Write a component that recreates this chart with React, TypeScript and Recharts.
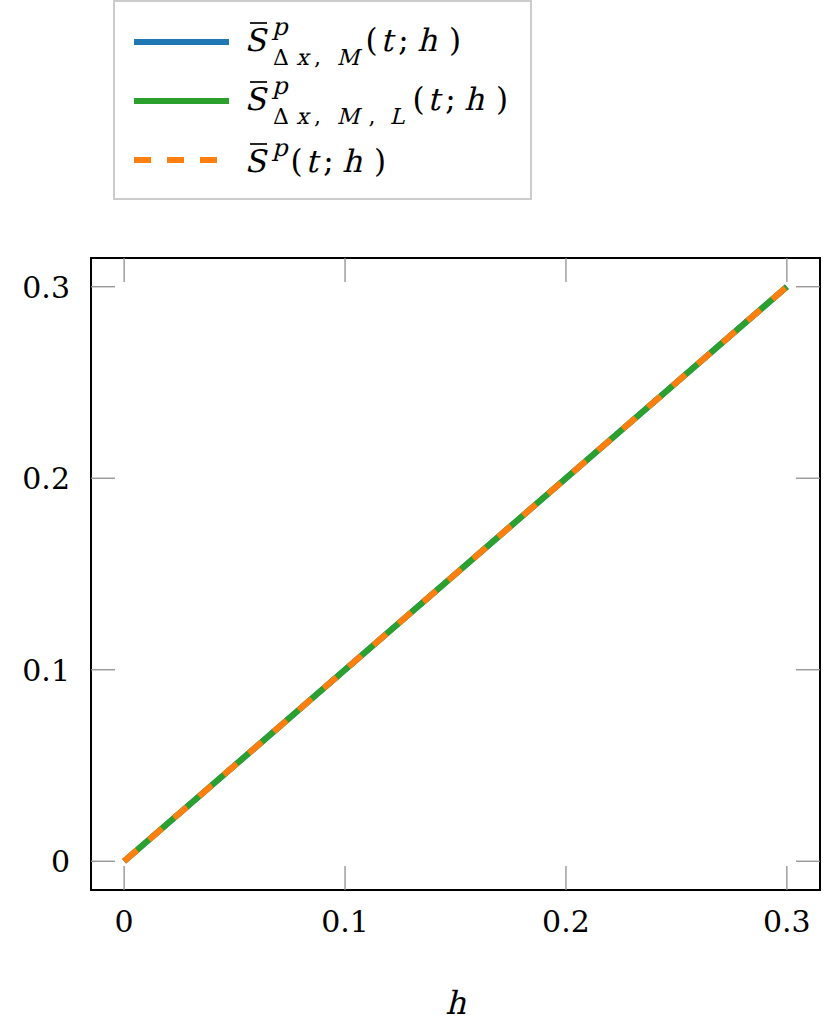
import React from 'react';
import { LineChart, Line, XAxis, YAxis, ReferenceArea } from 'recharts';

const hValues = [0, 0.05, 0.1, 0.15, 0.2, 0.25, 0.3];
const sDxM = [0, 0.05, 0.1, 0.15, 0.2, 0.25, 0.3];
const sDxML = [0, 0.05, 0.1, 0.15, 0.2, 0.25, 0.3];
const sExact = [0, 0.05, 0.1, 0.15, 0.2, 0.25, 0.3];
const xTicks = [0, 0.1, 0.2, 0.3];
const yTicks = [0, 0.1, 0.2, 0.3];
const xLabels = ['0', '0.1', '0.2', '0.3'];
const yLabels = ['0', '0.1', '0.2', '0.3'];
const xAxisTitle = 'h';

const seriesKeys = ['dxm', 'dxml', 'exact'];
const seriesColors = ['#1f77b4', '#2ca02c', '#ff7f0e'];
const seriesDash = [undefined, undefined, '17 16'];
// subscript glyphs per legend entry: [text, italic]
const legendSubs: [string, boolean][][] = [
  [['Δ', false], ['x', true], [',', false], ['M', true]],
  [['Δ', false], ['x', true], [',', false], ['M', true], [',', false], ['L', true]],
  [],
];
const argGlyphs: [string, boolean][] = [['(', false], ['t', true], [';', false], ['h', true], [')', false]];

const data = hValues.map((h, i) => ({ h, dxm: sDxM[i], dxml: sDxML[i], exact: sExact[i] }));

const FONT = '"DejaVu Serif", serif';
const TICK_COLOR = '#8f8f8f';
const TICK_LEN = 24;

const fmt = (v: number, ticks: number[], labels: string[]) => {
  const i = ticks.findIndex((t) => Math.abs(t - v) < 1e-9);
  return i >= 0 ? labels[i] : String(v);
};

// a single glyph, centred at x on baseline y; italic drawn as slanted serif
const Glyph = ({ x, y, size, italic, children }: any) => (
  <text
    transform={`translate(${x},${y})${italic ? ' skewX(-14)' : ''}`}
    x={0}
    y={0}
    textAnchor="middle"
    fontFamily={FONT}
    fontSize={size}
    fill="#000"
  >
    {children}
  </text>
);

const BottomTick = (props: any) => {
  const { x, y, payload } = props;
  return (
    <g>
      <line x1={x} x2={x} y1={y} y2={y - TICK_LEN} stroke={TICK_COLOR} strokeWidth={1.3} />
      <text x={x} y={y + 42} textAnchor="middle" fontFamily={FONT} fontSize={30} fill="#000">
        {fmt(payload.value, xTicks, xLabels)}
      </text>
    </g>
  );
};
const TopTick = (props: any) => {
  const { x, y } = props;
  return <line x1={x} x2={x} y1={y} y2={y + TICK_LEN} stroke={TICK_COLOR} strokeWidth={1.3} />;
};
const LeftTick = (props: any) => {
  const { x, y, payload } = props;
  return (
    <g>
      <line x1={x} x2={x + TICK_LEN} y1={y} y2={y} stroke={TICK_COLOR} strokeWidth={1.3} />
      <text x={x - 21} y={y + 11} textAnchor="end" fontFamily={FONT} fontSize={30} fill="#000">
        {fmt(payload.value, yTicks, yLabels)}
      </text>
    </g>
  );
};
const RightTick = (props: any) => {
  const { x, y } = props;
  return <line x1={x} x2={x - TICK_LEN} y1={y} y2={y} stroke={TICK_COLOR} strokeWidth={1.3} />;
};

const XTitle = (props: any) => {
  const vb = props.viewBox || { x: 91, y: 890, width: 729, height: 145 };
  return (
    <Glyph x={vb.x + vb.width / 2} y={vb.y + vb.height - 21} size={32} italic>
      {xAxisTitle}
    </Glyph>
  );
};

const rowBase = [51, 110, 172];
const lineY = [42, 101, 160];
const parenX = [368, 415, 293];
const subCenters = [281, 302.5, 317.5, 348, 372, 397];
const argCenters = [3.5, 18.5, 35.5, 59, 87];

const Legend = () => (
  <svg width={833} height={210} style={{ position: 'absolute', left: 0, top: 0 }}>
    <rect x={114} y={1} width={417} height={198} fill="#fff" stroke="#cccccc" strokeWidth={2} />
    {seriesKeys.map((k, i) => {
      const b = rowBase[i];
      const px = parenX[i];
      return (
        <g key={k}>
          <line x1={134} x2={229} y1={lineY[i]} y2={lineY[i]} stroke={seriesColors[i]} strokeWidth={6} strokeDasharray={seriesDash[i]} />
          <line x1={250} x2={267} y1={b - 28} y2={b - 28} stroke="#000" strokeWidth={1.7} />
          <Glyph x={255} y={b} size={31} italic>S</Glyph>
          <Glyph x={280} y={b - 16} size={24} italic>p</Glyph>
          {legendSubs[i].map(([g, it], j) => (
            <Glyph key={j} x={subCenters[j]} y={b + 14} size={22} italic={it}>{g}</Glyph>
          ))}
          {argGlyphs.map(([g, it], j) => (
            <Glyph key={'a' + j} x={px + argCenters[j]} y={b} size={31} italic={it}>{g}</Glyph>
          ))}
        </g>
      );
    })}
  </svg>
);

export default function App() {
  return (
    <div style={{ position: 'absolute', left: 0, top: 0, width: 833, height: 1035, background: '#fff' }}>
      <LineChart width={833} height={1035} data={data} margin={{ top: 257, right: 12, bottom: 0, left: 0 }}>
        <XAxis
          dataKey="h"
          type="number"
          domain={[-0.015, 0.315]}
          ticks={xTicks}
          allowDataOverflow
          height={145}
          tickSize={0}
          tickMargin={0}
          tickLine={false}
          axisLine={false}
          tick={<BottomTick />}
          interval={0}
          label={<XTitle />}
        />
        <XAxis
          xAxisId="top"
          dataKey="h"
          orientation="top"
          type="number"
          domain={[-0.015, 0.315]}
          ticks={xTicks}
          allowDataOverflow
          height={1}
          tickSize={0}
          tickMargin={0}
          tickLine={false}
          axisLine={false}
          tick={<TopTick />}
          interval={0}
        />
        <YAxis
          type="number"
          domain={[-0.015, 0.315]}
          ticks={yTicks}
          allowDataOverflow
          width={91}
          tickSize={0}
          tickMargin={0}
          tickLine={false}
          axisLine={false}
          tick={<LeftTick />}
          interval={0}
        />
        <YAxis
          yAxisId="right"
          orientation="right"
          type="number"
          domain={[-0.015, 0.315]}
          ticks={yTicks}
          allowDataOverflow
          width={1}
          tickSize={0}
          tickMargin={0}
          tickLine={false}
          axisLine={false}
          tick={<RightTick />}
          interval={0}
        />
        {seriesKeys.map((k, i) => (
          <Line
            key={k}
            dataKey={k}
            type="linear"
            stroke={seriesColors[i]}
            strokeWidth={6}
            strokeDasharray={seriesDash[i]}
            dot={false}
            activeDot={false}
            isAnimationActive={false}
          />
        ))}
        <ReferenceArea x1={-0.015} x2={0.315} y1={-0.015} y2={0.315} fill="none" stroke="#000" strokeWidth={2} ifOverflow="visible" />
      </LineChart>
      <Legend />
    </div>
  );
}
